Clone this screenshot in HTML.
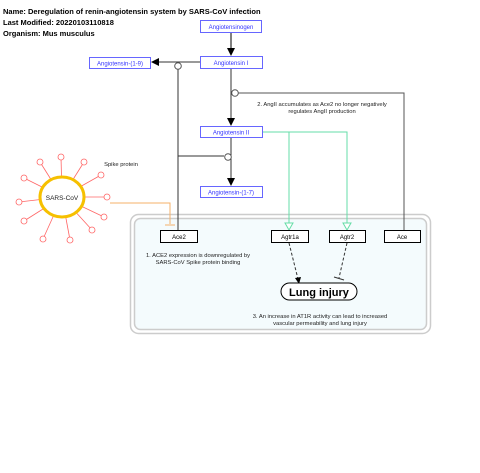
<!DOCTYPE html>
<html><head><meta charset="utf-8"><style>
body{margin:0;background:#fff;}
svg{display:block;font-family:"Liberation Sans",Arial,sans-serif;}
</style></head><body>
<svg width="480" height="473" viewBox="0 0 480 473">
<defs>
<marker id="ab" markerWidth="8" markerHeight="8" refX="7" refY="4" orient="auto" markerUnits="userSpaceOnUse"><path d="M0,0 L8,4 L0,8 z" fill="#000"/></marker>
<marker id="ag" markerWidth="9" markerHeight="8" refX="8" refY="4" orient="auto" markerUnits="userSpaceOnUse"><path d="M0,0 L8,4 L0,8 z" fill="#fff" stroke="#66dda8"/></marker>
</defs>
<text x="3" y="14" font-size="7.5" font-weight="bold">Name: Deregulation of renin-angiotensin system by SARS-CoV infection</text>
<text x="3" y="25" font-size="7.5" font-weight="bold">Last Modified: 20220103110818</text>
<text x="3" y="36" font-size="7.5" font-weight="bold">Organism: Mus musculus</text>

<!-- group -->
<rect x="130.5" y="214.5" width="300" height="119" rx="8" fill="#fff" stroke="#ccc" stroke-width="1.5"/>
<rect x="134.5" y="218.5" width="292" height="111" rx="6" fill="#f4fbfd" stroke="#ccc" stroke-width="1.5"/>

<!-- edges -->
<line x1="231" y1="32" x2="231" y2="55" stroke="#000" marker-end="url(#ab)"/>
<line x1="200" y1="62" x2="152" y2="62" stroke="#333" marker-end="url(#ab)"/>
<line x1="231" y1="68" x2="231" y2="125" stroke="#333" marker-end="url(#ab)"/>
<line x1="231" y1="137" x2="231" y2="185" stroke="#333" marker-end="url(#ab)"/>
<polyline points="178,66 178,230" fill="none" stroke="#333"/>
<line x1="178" y1="156" x2="224" y2="156" stroke="#333"/>
<polyline points="235,93 404,93 404,230" fill="none" stroke="#555"/>
<circle cx="178" cy="66" r="3.3" fill="#fff" stroke="#555"/>
<circle cx="235" cy="93" r="3.3" fill="#fff" stroke="#555"/>
<circle cx="228" cy="157" r="3.3" fill="#fff" stroke="#555"/>
<polyline points="262,132 289,132 289,229" fill="none" stroke="#66dda8"/>
<polyline points="262,132 347,132 347,229" fill="none" stroke="#66dda8"/>
<path d="M285,223 L289,230 L293,223 z" fill="#fff" stroke="#66dda8"/>
<path d="M343,223 L347,230 L351,223 z" fill="#fff" stroke="#66dda8"/>
<polyline points="110,203 170,203 170,224" fill="none" stroke="#f4b06a"/>
<line x1="165" y1="225" x2="175" y2="225" stroke="#f4b06a"/>
<line x1="289" y1="243" x2="298" y2="279" stroke="#333" stroke-dasharray="3,2"/>
<path d="M295,278 L299,284 L301,277 z" fill="#000"/>
<line x1="347" y1="243" x2="339" y2="278" stroke="#333" stroke-dasharray="3,2"/>
<line x1="334" y1="277" x2="344" y2="280" stroke="#333"/>

<!-- nodes -->
<g font-size="6" fill="#33f" text-anchor="middle">
<rect x="200.5" y="20.5" width="61" height="12" fill="#fff" stroke="#66f"/><text x="231" y="29">Angiotensinogen</text>
<rect x="200.5" y="56.5" width="62" height="12" fill="#fff" stroke="#66f"/><text x="231" y="65">Angiotensin I</text>
<rect x="89.5" y="57.5" width="61" height="11" fill="#fff" stroke="#66f"/><text x="120" y="65.5">Angiotensin-(1-9)</text>
<rect x="200.5" y="126.5" width="62" height="11" fill="#fff" stroke="#66f"/><text x="231" y="134.5">Angiotensin II</text>
<rect x="200.5" y="186.5" width="62" height="11" fill="#fff" stroke="#66f"/><text x="231" y="194.5">Angiotensin-(1-7)</text>
</g>
<g font-size="6" fill="#000" text-anchor="middle">
<rect x="160.5" y="230.5" width="37" height="12" fill="#fff" stroke="#000"/><text x="179" y="239">Ace2</text>
<rect x="271.5" y="230.5" width="37" height="12" fill="#fff" stroke="#000"/><text x="290" y="239">Agtr1a</text>
<rect x="329.5" y="230.5" width="36" height="12" fill="#fff" stroke="#000"/><text x="347" y="239">Agtr2</text>
<rect x="384.5" y="230.5" width="36" height="12" fill="#fff" stroke="#000"/><text x="402" y="239">Ace</text>
<rect x="281" y="283" width="76" height="17" rx="8.5" fill="#fff" stroke="#000"/>
<text x="319" y="296" font-size="11" font-weight="bold">Lung injury</text>
</g>
<g font-size="5.8" fill="#222" text-anchor="middle">
<text x="322" y="106">2. AngII accumulates as Ace2 no longer negatively</text>
<text x="322" y="113">regulates AngII production</text>
<text x="198" y="257">1. ACE2 expression is downregulated by</text>
<text x="198" y="264">SARS-CoV Spike protein binding</text>
<text x="320" y="318">3. An increase in AT1R activity can lead to increased</text>
<text x="320" y="325">vascular permeability and lung injury</text>
<text x="121" y="166">Spike protein</text>
</g>

<!-- virus -->
<g stroke="#f66" stroke-width="0.8" fill="#fff">
<line x1="62" y1="197" x2="61" y2="157"/><line x1="62" y1="197" x2="40" y2="162"/><line x1="62" y1="197" x2="84" y2="162"/>
<line x1="62" y1="197" x2="101" y2="175"/><line x1="62" y1="197" x2="24" y2="178"/><line x1="62" y1="197" x2="107" y2="197"/>
<line x1="62" y1="197" x2="19" y2="202"/><line x1="62" y1="197" x2="104" y2="217"/><line x1="62" y1="197" x2="24" y2="221"/>
<line x1="62" y1="197" x2="92" y2="230"/><line x1="62" y1="197" x2="43" y2="239"/><line x1="62" y1="197" x2="70" y2="240"/>
<ellipse cx="62" cy="197" rx="22" ry="20" fill="#fff" stroke="#f6c000" stroke-width="3"/>
<circle cx="61" cy="157" r="3"/><circle cx="40" cy="162" r="3"/><circle cx="84" cy="162" r="3"/>
<circle cx="101" cy="175" r="3"/><circle cx="24" cy="178" r="3"/><circle cx="107" cy="197" r="3"/>
<circle cx="19" cy="202" r="3"/><circle cx="104" cy="217" r="3"/><circle cx="24" cy="221" r="3"/>
<circle cx="92" cy="230" r="3"/><circle cx="43" cy="239" r="3"/><circle cx="70" cy="240" r="3"/>
</g>
<text x="62" y="200" font-size="6.5" text-anchor="middle" fill="#222">SARS-CoV</text>
</svg>
</body></html>
